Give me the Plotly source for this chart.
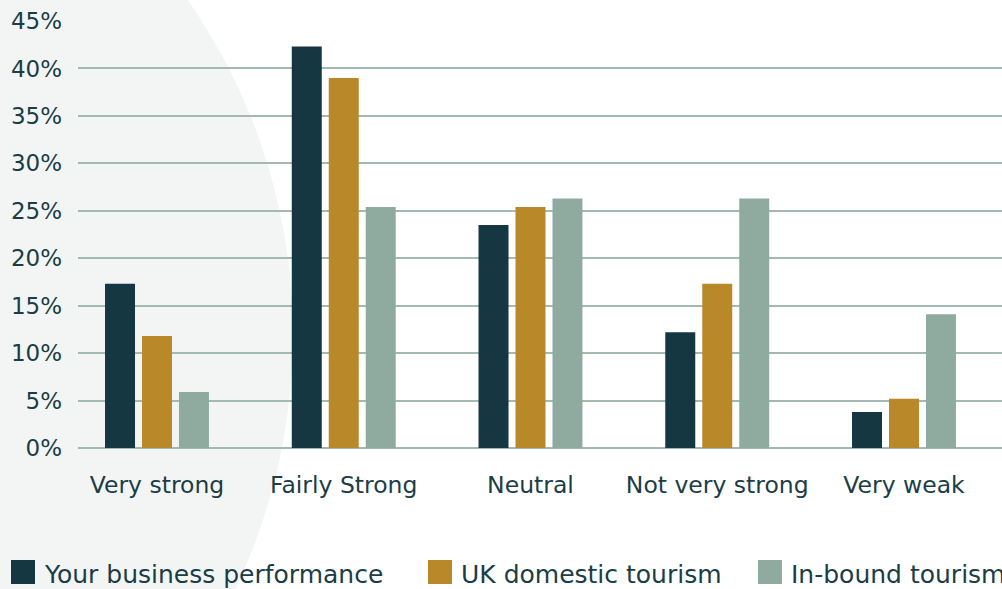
import plotly.graph_objects as go

# Survey responses by perceived strength
categories = ["Very strong", "Fairly Strong", "Neutral", "Not very strong", "Very weak"]
series_names = ["Your business performance", "UK domestic tourism", "In-bound tourism"]
business = [17.3, 42.3, 23.5, 12.2, 3.8]
domestic = [11.8, 39.0, 25.4, 17.3, 5.2]
inbound = [5.9, 25.4, 26.3, 26.3, 14.1]
y_ticks = [0, 5, 10, 15, 20, 25, 30, 35, 40, 45]
y_tick_text = [f"{v}%" for v in y_ticks]

colors = ["#143741", "#b98829", "#8faba0"]
text_color = "#1b3d46"
grid_color = "#a3bab1"
font_family = "DejaVu Sans"

W, H = 1002, 589
L, R, T, B = 78, 0, 21, 141
plot_w = W - L - R
plot_h = H - T - B

fig = go.Figure()
for name, vals, col in zip(series_names, [business, domestic, inbound], colors):
    fig.add_trace(go.Bar(x=categories, y=vals, name=name, marker_color=col,
                         marker_line_width=0, showlegend=False))


def px_to_paper(px, py):
    return (px - L) / plot_w, (H - B - py) / plot_h


# soft background disc on the left
cx0, cy0 = px_to_paper(-879, -251)
cx1, cy1 = px_to_paper(293, 921)
shapes = [dict(type="circle", xref="paper", yref="paper", x0=cx0, x1=cx1,
               y0=cy1, y1=cy0, fillcolor="#f3f5f4", line_width=0, layer="below")]

# legend row: coloured squares with labels
annotations = []
legend_x = [11, 428, 758]
for name, col, lx in zip(series_names, colors, legend_x):
    x0, y0 = px_to_paper(lx, 584)
    x1, y1 = px_to_paper(lx + 24, 560)
    shapes.append(dict(type="rect", xref="paper", yref="paper", x0=x0, x1=x1,
                       y0=y0, y1=y1, fillcolor=col, line_width=0))
    tx, ty = px_to_paper(lx + 31, 574)
    annotations.append(dict(text=name, xref="paper", yref="paper", x=tx, y=ty,
                            xanchor="left", yanchor="middle", showarrow=False,
                            font=dict(size=25, color=text_color, family=font_family)))

fig.update_layout(
    width=W, height=H,
    margin=dict(l=L, r=R, t=T, b=B),
    paper_bgcolor="white", plot_bgcolor="rgba(0,0,0,0)",
    barmode="group", bargap=0.406, bargroupgap=0.189,
    font=dict(family=font_family, color=text_color, size=23),
    shapes=shapes, annotations=annotations,
    xaxis=dict(range=[-0.423, 4.5248], showgrid=False, showline=False,
               zeroline=False, ticks="", ticklabelstandoff=20,
               tickfont=dict(size=23.5, color=text_color)),
    yaxis=dict(range=[0, 45], tickvals=y_ticks, ticktext=y_tick_text,
               showgrid=True, gridcolor=grid_color, gridwidth=1.5,
               zeroline=True, zerolinecolor=grid_color, zerolinewidth=1.5,
               showline=False, ticks="", ticklabelstandoff=15,
               tickfont=dict(size=23, color=text_color)),
)

fig.write_html("out.html")
